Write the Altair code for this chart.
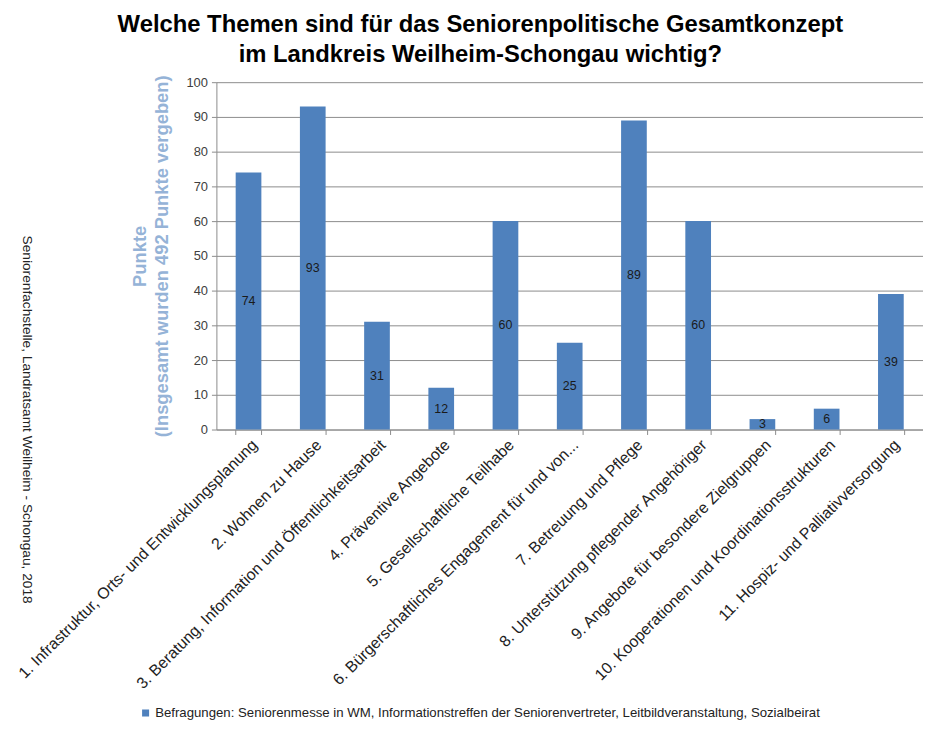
import altair as alt
import pandas as pd

categories = [
    "1. Infrastruktur, Orts- und Entwicklungsplanung",
    "2. Wohnen zu Hause",
    "3. Beratung, Information und Öffentlichkeitsarbeit",
    "4. Präventive Angebote",
    "5. Gesellschaftliche Teilhabe",
    "6. Bürgerschaftliches Engagement für und von...",
    "7. Betreuung und Pflege",
    "8. Unterstützung pflegender Angehöriger",
    "9. Angebote für besondere Zielgruppen",
    "10. Kooperationen und Koordinationsstrukturen",
    "11. Hospiz- und Palliativversorgung",
]
values = [74, 93, 31, 12, 60, 25, 89, 60, 3, 6, 39]
series_name = "Befragungen: Seniorenmesse in WM, Informationstreffen der Seniorenvertreter, Leitbildveranstaltung, Sozialbeirat"
y_ticks = list(range(0, 101, 10))
title_lines = ["Welche Themen sind für das Seniorenpolitische Gesamtkonzept",
               "im Landkreis Weilheim-Schongau wichtig?"]
y_title = ["Punkte", "(Insgesamt wurden 492 Punkte vergeben)"]
source_note = "Seniorenfachstelle, Landratsamt Weilheim - Schongau, 2018"

df = pd.DataFrame({"Thema": categories, "Punkte": values, "Serie": series_name})

FONT = "Liberation Sans"
BLUE = "#4f81bd"
GRID = "#8c8c8c"

x_axis = alt.Axis(labelAngle=-45, labelAlign="right", labelBaseline="top",
                  labelFontSize=16, labelColor="#222222", labelFont=FONT,
                  labelLimit=0, labelPadding=2, tickBand="extent",
                  tickColor=GRID, tickSize=5, domainColor=GRID, grid=False)
y_axis = alt.Axis(values=y_ticks, labelFontSize=13, labelColor="#404040",
                  labelFont=FONT, tickColor=GRID, tickSize=5,
                  domainColor=GRID, gridColor=GRID, labelPadding=4,
                  titleColor="#95b3d7", titleFontSize=18.5, titleFont=FONT,
                  titleFontWeight="bold", titlePadding=15, titleLineHeight=22)
x_scale = alt.Scale(paddingInner=0.6, paddingOuter=0.3)
y_scale = alt.Scale(domain=[0, 100], nice=False)

base = alt.Chart(df)

bars = base.mark_bar(color=BLUE).encode(
    x=alt.X("Thema:N", sort=None, title=None, scale=x_scale, axis=x_axis),
    y=alt.Y("Punkte:Q", title=y_title, scale=y_scale, axis=y_axis),
    color=alt.Color("Serie:N", scale=alt.Scale(range=[BLUE]),
                    legend=alt.Legend(title=None, orient="none", legendX=-78, legendY=629,
                                      symbolType="square", symbolSize=50,
                                      labelFontSize=13.3, labelFont=FONT,
                                      labelColor="#222222", labelLimit=0,
                                      symbolStrokeWidth=0, labelOffset=3)),
)

labels = base.transform_calculate(mid="datum.Punkte / 2").mark_text(
    fontSize=12.5, font=FONT, color="#1a1a1a", baseline="middle"
).encode(
    x=alt.X("Thema:N", sort=None, title=None, scale=x_scale, axis=x_axis),
    y=alt.Y("mid:Q", title=y_title, scale=y_scale, axis=y_axis),
    text=alt.Text("Punkte:Q"),
)

note = alt.Chart(pd.DataFrame({"t": [source_note]})).mark_text(
    angle=90, fontSize=13.8, font=FONT, color="#222222", align="center", baseline="middle"
).encode(x=alt.value(-191), y=alt.value(340), text="t:N")

chart = alt.layer(bars, labels, note).properties(
    width=712, height=350,
    autosize=alt.AutoSizeParams(type="none"),
    padding={"left": 210, "top": 72, "right": 0, "bottom": 296},
    title=alt.TitleParams(text=title_lines, fontSize=24, font=FONT, fontWeight="bold",
                          color="#000000", anchor="middle", lineHeight=30,
                          dx=-90, offset=8),
).configure_view(stroke=None)

chart.save("out.html", embed_options={"renderer": "svg", "actions": False})
